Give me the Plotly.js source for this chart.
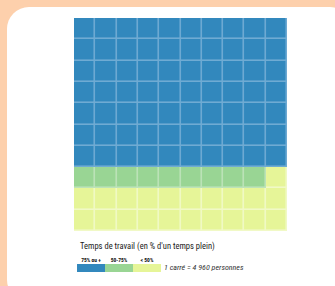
<!DOCTYPE html>
<html>
<head>
<meta charset="utf-8">
<script src="https://cdn.plot.ly/plotly-3.0.1.min.js"></script>
<style>
  html, body { margin: 0; padding: 0; width: 335px; height: 286px; overflow: hidden; background: #FDD0AC; }
  #panel { position: absolute; left: 7px; top: 7px; width: 345px; height: 295px; background: #ffffff; border-radius: 22px; }
  #chart { position: absolute; left: 0; top: 0; width: 335px; height: 286px; }
</style>
</head>
<body>
<div id="panel"></div>
<div id="chart"></div>
<script>
// Data
var categories = ["75% ou +", "50-75%", "< 50%"];
var counts = [70, 9, 21];           // number of squares per category
var colors = ["#3288BD", "#99D594", "#E6F598"];
var lightColors = ["#6FABD3", "#BDE3B9", "#F1F9C6"];
var nCols = 10, nRows = 10;
var legendTitle = "Temps de travail (en % d'un temps plein)";
var unitNote = "1 carré = 4 960 personnes";

// Build the waffle grid (row by row, from top-left)
var flat = [];
counts.forEach(function (c, i) { for (var k = 0; k < c; k++) flat.push(i); });
var z = [];
for (var r = 0; r < nRows; r++) {
  z.push(flat.slice(r * nCols, (r + 1) * nCols));
}

function scale(cols) {
  return [[0, cols[0]], [0.5, cols[1]], [1, cols[2]]];
}

var narrow = "Liberation Sans Narrow, Roboto Condensed, Arial Narrow, sans-serif";

var traces = [
  { type: "heatmap", z: z, zmin: 0, zmax: 2, colorscale: scale(lightColors),
    showscale: false, hoverinfo: "skip", xaxis: "x", yaxis: "y" },
  { type: "heatmap", z: z, zmin: 0, zmax: 2, colorscale: scale(colors),
    showscale: false, xgap: 1.6, ygap: 1.6, xaxis: "x", yaxis: "y",
    text: z.map(function (row) { return row.map(function (v) { return categories[v]; }); }),
    hovertemplate: "%{text}<extra></extra>" },
  { type: "heatmap", z: [[0, 1, 2]], x: categories, zmin: 0, zmax: 2,
    colorscale: scale(colors), showscale: false, xaxis: "x2", yaxis: "y2",
    hoverinfo: "skip" }
];

var layout = {
  width: 335, height: 286,
  margin: { l: 0, r: 0, t: 0, b: 0 },
  paper_bgcolor: "rgba(0,0,0,0)",
  plot_bgcolor: "rgba(0,0,0,0)",
  showlegend: false,
  xaxis: { domain: [0.2209, 0.8567], range: [-0.5, 9.5], showticklabels: false,
           showgrid: false, zeroline: false, ticks: "", fixedrange: true },
  yaxis: { domain: [0.1923, 0.9371], range: [9.5, -0.5], showticklabels: false,
           showgrid: false, zeroline: false, ticks: "", fixedrange: true },
  xaxis2: { domain: [0.2299, 0.4806], anchor: "y2", side: "top", type: "category",
            showgrid: false, zeroline: false, ticks: "", ticklen: 0,
            tickfont: { family: narrow, size: 5.5, color: "#111", weight: "bold" },
            fixedrange: true },
  yaxis2: { domain: [0.049, 0.0769], anchor: "x2", showticklabels: false,
            showgrid: false, zeroline: false, ticks: "", fixedrange: true },
  font: { family: narrow, color: "#222" },
  annotations: [
    { xref: "paper", yref: "paper", x: 78 / 335, y: 1 - 246 / 286, xanchor: "left", yanchor: "middle",
      text: legendTitle, showarrow: false, font: { family: narrow, size: 8.5, color: "#1a1a1a" } },
    { xref: "paper", yref: "paper", x: 162 / 335, y: 1 - 267 / 286, xanchor: "left", yanchor: "middle",
      text: "<i>" + unitNote + "</i>", showarrow: false, font: { family: narrow, size: 8, color: "#333" } }
  ]
};

Plotly.newPlot("chart", traces, layout, { displayModeBar: false, staticPlot: true });
</script>
</body>
</html>
